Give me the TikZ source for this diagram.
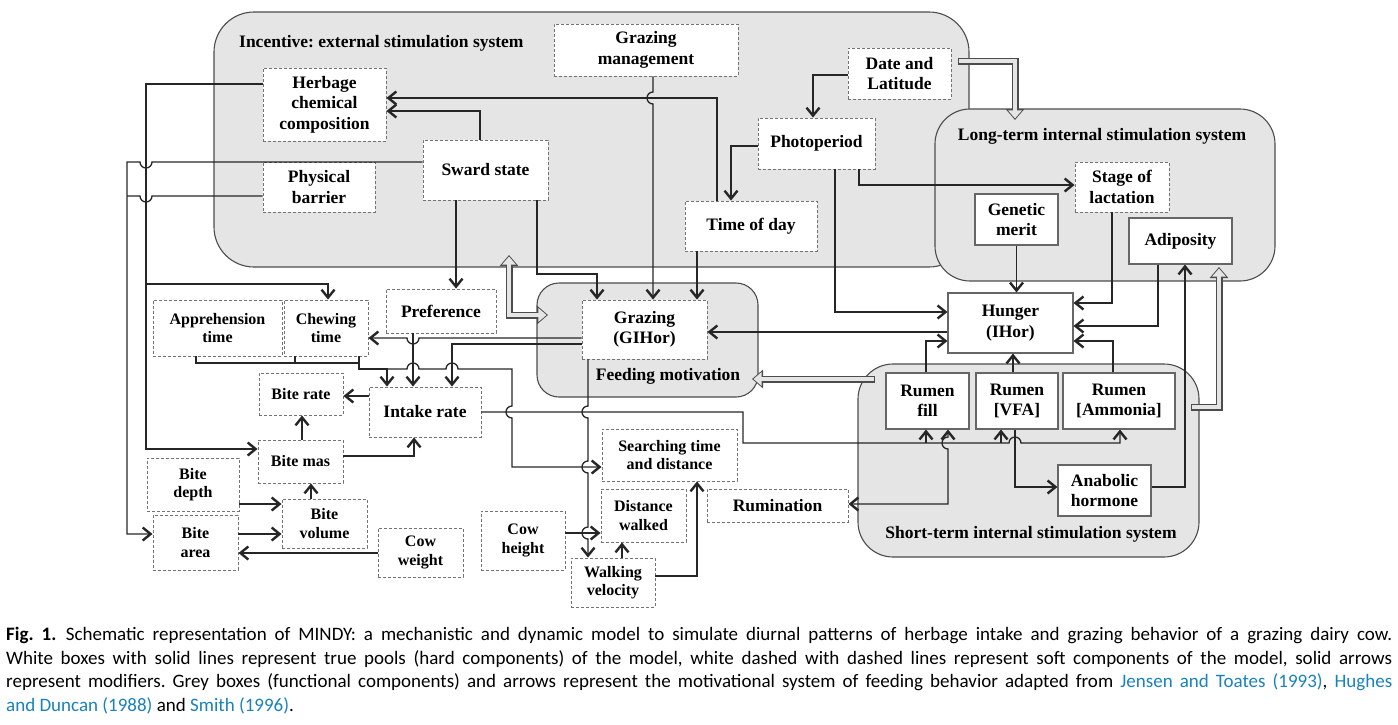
\documentclass[tikz,border=0pt]{standalone}
\usepackage{fontspec}
\setmainfont{Liberation Serif}
\newfontfamily\capfont{Carlito}
\usetikzlibrary{arrows.meta}
\definecolor{linkblue}{RGB}{25,130,185}
\frenchspacing

\begin{document}
\begin{tikzpicture}[x=1pt, y=-1pt,
	>={Straight Barb[length=8pt,width=13pt,line width=2.4pt]},
	wire/.style={draw=black!85, line width=1.3pt},
	zone/.style={draw=black!70, line width=1.1pt, fill=black!10, rounded corners=#1},
	zonetitle/.style={font=\fontsize{17.5}{20}\selectfont\bfseries, inner sep=0pt},
	softbox/.style={draw=black!55, dash pattern=on 3pt off 2pt, line width=0.9pt, fill=white, align=center, inner sep=0pt, font=\fontsize{17.5}{20.5}\selectfont\bfseries},
	softsm/.style={softbox, font=\fontsize{16}{18.5}\selectfont\bfseries},
	hardbox/.style={draw=black!60, line width=1.1pt, fill=white, align=center, inner sep=0pt, font=\fontsize{17.5}{20.5}\selectfont\bfseries},
	fatarrow/.style={draw=black!70, line width=7pt, -{Triangle[width=18pt,length=11pt]},
		postaction={draw=black!10, line width=4.4pt, -{Triangle[width=13.5pt,length=8.2pt]}, shorten >=1.5pt, shorten <=1.3pt}},
	fatboth/.style={draw=black!70, line width=7pt, {Triangle[width=18pt,length=11pt]}-{Triangle[width=18pt,length=11pt]},
		postaction={draw=black!10, line width=4.4pt, {Triangle[width=13.5pt,length=8.2pt]}-{Triangle[width=13.5pt,length=8.2pt]}, shorten >=1.5pt, shorten <=1.5pt}}]
	\useasboundingbox (0,0) rectangle (1398,724);
	
	% grey systems
	\draw[zone=40pt] (214,12) rectangle (969,267);
	\draw[zone=35pt] (935,109) rectangle (1275,281);
	\draw[zone=22pt] (537,283) rectangle (758,397);
	\draw[zone=35pt] (858,364) rectangle (1199,557);
	\node[zonetitle, anchor=west] (tinc) at (239,43) {Incentive: external stimulation system};
	\node[zonetitle] (tlong) at (1102,136) {Long-term internal stimulation system};
	\node[zonetitle] (tfeed) at (668,376) {Feeding motivation};
	\node[zonetitle] (tshort) at (1031,534) {Short-term internal stimulation system};
	
	% motivational arrows
	\coordinate (dlout) at (958,61);
	\coordinate (ltin) at (1015,120);
	\coordinate (incin) at (509,255);
	\coordinate (fmleft) at (548,315);
	\coordinate (stout) at (875,379);
	\coordinate (fmright) at (752,379);
	\coordinate (stup) at (1191,407);
	\coordinate (ltbot) at (1219,267);
	\draw[fatarrow] (dlout) -| (ltin);
	\draw[fatboth] (incin) |- (fmleft);
	\draw[fatarrow] (stout) -- (fmright);
	\draw[fatarrow] (stup) -| (ltbot);
	
	% components
	\node[softbox, minimum width=123pt, minimum height=73pt] (herb) at (324.5,104.5) {Herbage\\chemical\\composition};
	\node[softbox, minimum width=112pt, minimum height=50pt] (phys) at (319,187) {Physical\\barrier};
	\node[softbox, minimum width=125pt, minimum height=60pt] (sward) at (485.5,170) {Sward state};
	\node[softbox, minimum width=184pt, minimum height=52pt] (gmgmt) at (646,50) {Grazing\\management};
	\node[softbox, minimum width=103pt, minimum height=51pt] (datelat) at (899.5,73.5) {Date and\\Latitude};
	\node[softbox, minimum width=117pt, minimum height=51pt] (photo) at (816.5,143.5) {Photoperiod};
	\node[softbox, minimum width=132pt, minimum height=50pt] (tod) at (751,226) {Time of day};
	\node[softbox, minimum width=94pt, minimum height=50pt] (stage) at (1122,187) {Stage of\\lactation};
	\node[hardbox, minimum width=83pt, minimum height=51pt] (genetic) at (1016.5,219.5) {Genetic\\merit};
	\node[hardbox, minimum width=103pt, minimum height=46pt] (adipo) at (1180.5,241) {Adiposity};
	\node[hardbox, minimum width=125pt, minimum height=60pt] (hunger) at (1010.5,323) {Hunger\\(IHor)};
	\node[hardbox, minimum width=83pt, minimum height=56pt] (rfill) at (927.5,401) {Rumen\\fill};
	\node[hardbox, minimum width=82pt, minimum height=56pt] (rvfa) at (1017,401) {Rumen\\{[VFA]}};
	\node[hardbox, minimum width=112pt, minimum height=56pt] (ramm) at (1119,401) {Rumen\\{[Ammonia]}};
	\node[hardbox, minimum width=93pt, minimum height=51pt] (anab) at (1104.5,490.5) {Anabolic\\hormone};
	\node[softbox, minimum width=141pt, minimum height=33pt] (rumin) at (777.5,505.5) {Rumination};
	\node[softbox, minimum width=125pt, minimum height=59pt] (grazing) at (644.5,329.5) {Grazing\\(GIHor)};
	\node[softsm, minimum width=129pt, minimum height=56pt] (appr) at (217.5,328) {Apprehension\\time};
	\node[softsm, minimum width=84pt, minimum height=56pt] (chew) at (326,328) {Chewing\\time};
	\node[softbox, minimum width=110pt, minimum height=44pt] (pref) at (441,311) {Preference};
	\node[softsm, minimum width=84pt, minimum height=42pt] (brate) at (301,394) {Bite rate};
	\node[softbox, minimum width=112pt, minimum height=50pt] (intake) at (425,412) {Intake rate};
	\node[softsm, minimum width=85pt, minimum height=43pt] (bmas) at (300.5,461.5) {Bite mas};
	\node[softsm, minimum width=92pt, minimum height=53pt] (bdepth) at (193,484.5) {Bite\\depth};
	\node[softsm, minimum width=85pt, minimum height=55pt] (barea) at (195.5,542.5) {Bite\\area};
	\node[softsm, minimum width=85pt, minimum height=49pt] (bvol) at (324.5,523.5) {Bite\\volume};
	\node[softsm, minimum width=85pt, minimum height=49pt] (cowwt) at (420.5,552.5) {Cow\\weight};
	\node[softsm, minimum width=135pt, minimum height=52pt] (search) at (669.5,455) {Searching time\\and distance};
	\node[softsm, minimum width=85pt, minimum height=53pt] (distw) at (643.5,515.5) {Distance\\walked};
	\node[softsm, minimum width=84pt, minimum height=59pt] (cowht) at (523,540.5) {Cow\\height};
	\node[softsm, minimum width=84pt, minimum height=49pt] (walkv) at (613,582.5) {Walking\\velocity};
	
	% external stimulation
	\draw[wire,->] (tod.north -| 717,0) |- (herb.east |- 0,98);
	\draw[wire,->] (sward.north -| 480,0) |- (herb.east |- 0,111);
	\draw[wire,->] (gmgmt.south -| 653,0) -- (653,92) arc[start angle=-90, end angle=-270, radius=6] -- (grazing.north -| 653,0);
	\draw[wire,->] (datelat.west |- 0,75) -| (photo.north -| 813,0);
	\draw[wire,->] (photo.west |- 0,146) -| (tod.north -| 731,0);
	\draw[wire,->] (photo.south -| 859,0) |- (stage.west |- 0,185);
	\draw[wire,->] (photo.south -| 835,0) |- (hunger.west |- 0,312);
	\draw[wire,->] (tod.south -| 697,0) -- (grazing.north -| 697,0);
	\draw[wire,->] (sward.south -| 537,0) |- (597,274) -- (grazing.north -| 597,0);
	\draw[wire,->] (sward.south -| 456,0) -- (pref.north -| 456,0);
	
	% left side
	\draw[wire,->] (herb.west |- 0,84) -| (146,449) -- (bmas.west |- 0,449);
	\draw[wire,->] (146,284) -| (chew.north -| 328,0);
	\draw[wire,->] (sward.west |- 0,162) -- (152,162) arc[start angle=0, end angle=180, radius=6] -- (127,162) |- (barea.west |- 0,534);
	\draw[wire] (phys.west |- 0,196) -- (152,196) arc[start angle=0, end angle=180, radius=6] -- (127,196);
	
	% intake
	\draw[wire] (appr.south -| 196,0) |- (359,363);
	\draw[wire] (chew.south -| 295,0) -- (295,363);
	\draw[wire,->] (chew.south -| 359,0) |- (387,369) -- (intake.north -| 387,0);
	\draw[wire,->] (387,369) -- (407,369) arc[start angle=180, end angle=360, radius=6] -- (446,369) arc[start angle=180, end angle=360, radius=6] -- (512,369) -- (512,406) arc[start angle=-90, end angle=-270, radius=6] -- (512,467) -- (search.west |- 0,467);
	\draw[wire,->] (pref.south -| 413,0) -- (intake.north -| 413,0);
	\draw[wire,->] (grazing.west |- 0,338) -- (419,338) arc[start angle=0, end angle=180, radius=6] -- (chew.east |- 0,338);
	\draw[wire,->] (grazing.west |- 0,344) -| (intake.north -| 452,0);
	\draw[wire,->] (intake.west |- 0,396) -- (brate.east |- 0,396);
	\draw[wire,->] (bmas.north -| 302,0) -- (brate.south -| 302,0);
	\draw[wire,->] (bmas.east |- 0,456) -| (intake.south -| 414,0);
	\draw[wire,->] (bvol.north -| 311,0) -- (bmas.south -| 311,0);
	\draw[wire,->] (bdepth.east |- 0,504) -- (bvol.west |- 0,504);
	\draw[wire,->] (barea.east |- 0,534) -- (bvol.west |- 0,534);
	\draw[wire,->] (cowwt.west |- 0,553) -- (barea.east |- 0,553);
	
	% walking
	\draw[wire,->] (grazing.south -| 588,0) -- (588,406) arc[start angle=-90, end angle=-270, radius=6] -- (588,461) arc[start angle=-90, end angle=-270, radius=6] -- (588,527) arc[start angle=-90, end angle=-270, radius=6] -- (walkv.north -| 588,0);
	\draw[wire,->] (cowht.east |- 0,533) -- (distw.west |- 0,533);
	\draw[wire,->] (walkv.north -| 622,0) -- (distw.south -| 622,0);
	\draw[wire,->] (walkv.east |- 0,576) -| (search.south -| 697,0);
	
	% rumen and hunger
	\draw[wire,->] (intake.east |- 0,412) -- (743,412) |- (1009,443) arc[start angle=180, end angle=360, radius=6] -- (1120,443) -- (ramm.south -| 1120,0);
	\draw[wire,->] (926,443) -- (rfill.south -| 926,0);
	\draw[wire,->] (1001,443) -- (rvfa.south -| 1001,0);
	\draw[wire,<->] (rumin.east |- 0,504) -| (948,449) arc[start angle=90, end angle=270, radius=6] -- (rfill.south -| 948,0);
	\draw[wire,->] (rfill.north -| 926,0) |- (hunger.west |- 0,341);
	\draw[wire,->] (rvfa.north -| 1013,0) -- (hunger.south -| 1013,0);
	\draw[wire,->] (ramm.north -| 1113,0) |- (hunger.east |- 0,341);
	\draw[wire,->] (rvfa.south -| 1015,0) |- (anab.west |- 0,487);
	\draw[wire,->] (anab.east |- 0,487) -| (adipo.south -| 1185,0);
	\draw[wire,->] (genetic.south) -- (hunger.north -| genetic.south);
	\draw[wire,->] (stage.south -| 1112,0) |- (hunger.east |- 0,303);
	\draw[wire,->] (adipo.south -| 1158,0) |- (hunger.east |- 0,326);
	\draw[wire,->] (hunger.west |- 0,332) -- (grazing.east |- 0,332);
	
	% caption
	\node[anchor=north west, text width=1386pt, align=justify, inner sep=0pt, font=\capfont\fontsize{19}{23.7}\selectfont] (cap) at (6,627) {\textbf{Fig. 1.}\enspace Schematic representation of MINDY: a mechanistic and dynamic model to simulate diurnal patterns of herbage intake and grazing behavior of a grazing dairy cow.\linebreak White boxes with solid lines represent true pools (hard components) of the model, white dashed with dashed lines represent soft components of the model, solid arrows\linebreak represent modifiers. Grey boxes (functional components) and arrows represent the motivational system of feeding behavior adapted from {\color{linkblue}Jensen and Toates (1993)}, {\color{linkblue}Hughes}\linebreak {\color{linkblue}and Duncan (1988)} and {\color{linkblue}Smith (1996)}.};
\end{tikzpicture}
\end{document}
